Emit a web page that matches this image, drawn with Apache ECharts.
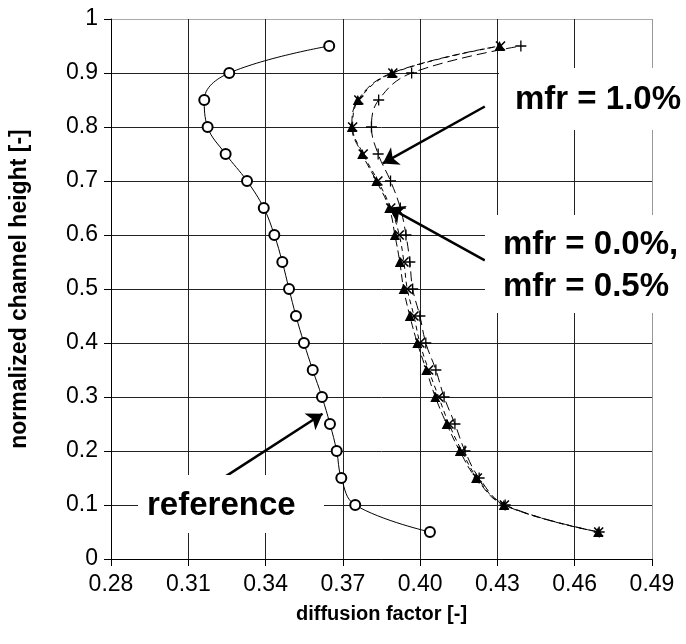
<!DOCTYPE html>
<html>
<head>
<meta charset="utf-8">
<script src="https://cdn.jsdelivr.net/npm/echarts@6/dist/echarts.min.js"></script>
<style>
html,body{margin:0;padding:0;background:#fff;}
#chart{width:686px;height:644px;}
</style>
</head>
<body>
<div id="chart"></div>
<script>
// normalized channel height, same for every series
var heights = [0.05, 0.10, 0.15, 0.20, 0.25, 0.30, 0.35, 0.40, 0.45, 0.50,
               0.55, 0.60, 0.65, 0.70, 0.75, 0.80, 0.85, 0.90, 0.95];

// diffusion factor per height
var refDf   = [0.4038, 0.3748, 0.3694, 0.3676, 0.3650, 0.3619, 0.3583, 0.3549, 0.3518, 0.3491,
               0.3465, 0.3434, 0.3393, 0.3328, 0.3245, 0.3175, 0.3162, 0.3259, 0.3647];
var mfr00Df = [0.4691, 0.4325, 0.4217, 0.4154, 0.4103, 0.4059, 0.4024, 0.3989, 0.3960, 0.3936,
               0.3921, 0.3902, 0.3880, 0.3830, 0.3775, 0.3735, 0.3758, 0.3890, 0.4308];
var mfr05Df = [0.4693, 0.4327, 0.4222, 0.4162, 0.4112, 0.4072, 0.4033, 0.3999, 0.3976, 0.3950,
               0.3937, 0.3919, 0.3886, 0.3836, 0.3779, 0.3738, 0.3762, 0.3894, 0.4312];
var mfr10Df = [0.4695, 0.4330, 0.4229, 0.4174, 0.4135, 0.4093, 0.4061, 0.4022, 0.3999, 0.3971,
               0.3960, 0.3945, 0.3923, 0.3885, 0.3837, 0.3811, 0.3839, 0.3967, 0.4391];

var xMin = 0.28, xMax = 0.49, xStep = 0.03;
var yMin = 0, yMax = 1, yStep = 0.1;

var FONT = '"Liberation Sans", Arial, sans-serif';

function pairs(xs) {
    return xs.map(function (x, i) { return [x, heights[i]]; });
}

var crossPath = 'path://M0,0L10,10M10,0L0,10';
var plusPath = 'path://M5,0L5,10M0,5L10,5';

// grid colours: inner lines dark, closing line at max lighter
var ySplitColors = ['#222','#222','#222','#222','#222','#222','#222','#222','#222','#222','#aaa'];
var xSplitColors = ['#222','#222','#222','#222','#222','#222','#222','#999'];

var chart = echarts.init(document.getElementById('chart'));

var option = {
    animation: false,
    grid: { left: 111, top: 19, right: 34, bottom: 85 },
    xAxis: {
        type: 'value',
        min: xMin, max: xMax, interval: xStep,
        name: 'diffusion factor [-]',
        nameLocation: 'middle',
        nameGap: 45,
        nameTextStyle: { fontFamily: FONT, fontWeight: 'bold', fontSize: 20, color: '#000' },
        axisLine: { show: true, onZero: false, lineStyle: { color: '#000', width: 1 } },
        axisTick: { show: true, length: 7, lineStyle: { color: '#000' } },
        axisLabel: {
            fontFamily: FONT, fontSize: 23, color: '#000', margin: 14,
            formatter: function (v) { return v.toFixed(2); }
        },
        splitLine: { show: true, lineStyle: { color: xSplitColors, width: 1 } }
    },
    yAxis: {
        type: 'value',
        min: yMin, max: yMax, interval: yStep,
        name: 'normalized channel height [-]',
        nameLocation: 'middle',
        nameGap: 80,
        nameTextStyle: { fontFamily: FONT, fontWeight: 'bold', fontSize: 23, color: '#000' },
        axisLine: { show: true, onZero: false, lineStyle: { color: '#000', width: 1 } },
        axisTick: { show: true, length: 7, lineStyle: { color: '#000' } },
        axisLabel: {
            fontFamily: FONT, fontSize: 23, color: '#000', margin: 13,
            formatter: function (v) { return String(Math.round(v * 10) / 10); }
        },
        splitLine: { show: true, lineStyle: { color: ySplitColors, width: 1 } }
    },
    series: [
        {
            name: 'reference',
            type: 'line',
            data: pairs(refDf),
            smooth: 0.4,
            symbol: 'emptyCircle',
            symbolSize: 10,
            lineStyle: { color: '#000', width: 1 },
            itemStyle: { color: '#000', borderColor: '#000', borderWidth: 1 },
            markLine: {
                silent: true,
                symbol: ['none', 'arrow'],
                symbolSize: 15,
                label: { show: false },
                lineStyle: { color: '#000', width: 2.5, type: 'solid' },
                data: [
                    [{ coord: [0.3245, 0.153] }, { coord: [0.3621, 0.269] }]
                ]
            },
            z: 3
        },
        {
            name: 'mfr = 0.0%',
            type: 'line',
            data: pairs(mfr00Df),
            smooth: 0.4,
            symbol: 'triangle',
            symbolSize: 10,
            lineStyle: { color: '#000', width: 1, type: [8, 4] },
            itemStyle: { color: '#000', borderColor: '#000', borderWidth: 0 },
            markLine: {
                silent: true,
                symbol: ['none', 'arrow'],
                symbolSize: 15,
                label: { show: false },
                lineStyle: { color: '#000', width: 2.5, type: 'solid' },
                data: [
                    [{ coord: [0.4251, 0.838] }, { coord: [0.3855, 0.7326] }],
                    [{ coord: [0.4251, 0.553] }, { coord: [0.3879, 0.651] }]
                ]
            }
        },
        {
            name: 'mfr = 0.5%',
            type: 'line',
            data: pairs(mfr05Df),
            smooth: 0.4,
            symbol: crossPath,
            symbolSize: 9,
            lineStyle: { color: '#000', width: 1, type: [5, 4] },
            itemStyle: { color: '#000', borderColor: '#000', borderWidth: 1.6 }
        },
        {
            name: 'mfr = 1.0%',
            type: 'line',
            data: pairs(mfr10Df),
            smooth: 0.4,
            symbol: plusPath,
            symbolSize: 11,
            lineStyle: { color: '#000', width: 1, type: [10, 5] },
            itemStyle: { color: '#000', borderColor: '#000', borderWidth: 1.3 }
        }
    ],
    graphic: [
        { type: 'rect', z: 50, shape: { x: 499, y: 68, width: 187, height: 62 }, style: { fill: '#fff' } },
        { type: 'text', z: 51, x: 515, y: 100,
          style: { text: 'mfr = 1.0%', font: 'bold 33px ' + FONT, fill: '#000', verticalAlign: 'middle' } },
        { type: 'rect', z: 50, shape: { x: 485, y: 215, width: 201, height: 98 }, style: { fill: '#fff' } },
        { type: 'text', z: 51, x: 503, y: 266,
          style: { text: 'mfr = 0.0%,\nmfr = 0.5%', font: 'bold 33px ' + FONT, lineHeight: 42,
                   fill: '#000', verticalAlign: 'middle' } },
        { type: 'rect', z: 50, shape: { x: 138, y: 475, width: 186, height: 58 }, style: { fill: '#fff' } },
        { type: 'text', z: 51, x: 147, y: 506,
          style: { text: 'reference', font: 'bold 33px ' + FONT, fill: '#000', verticalAlign: 'middle' } }
    ]
};

chart.setOption(option);
</script>
</body>
</html>
